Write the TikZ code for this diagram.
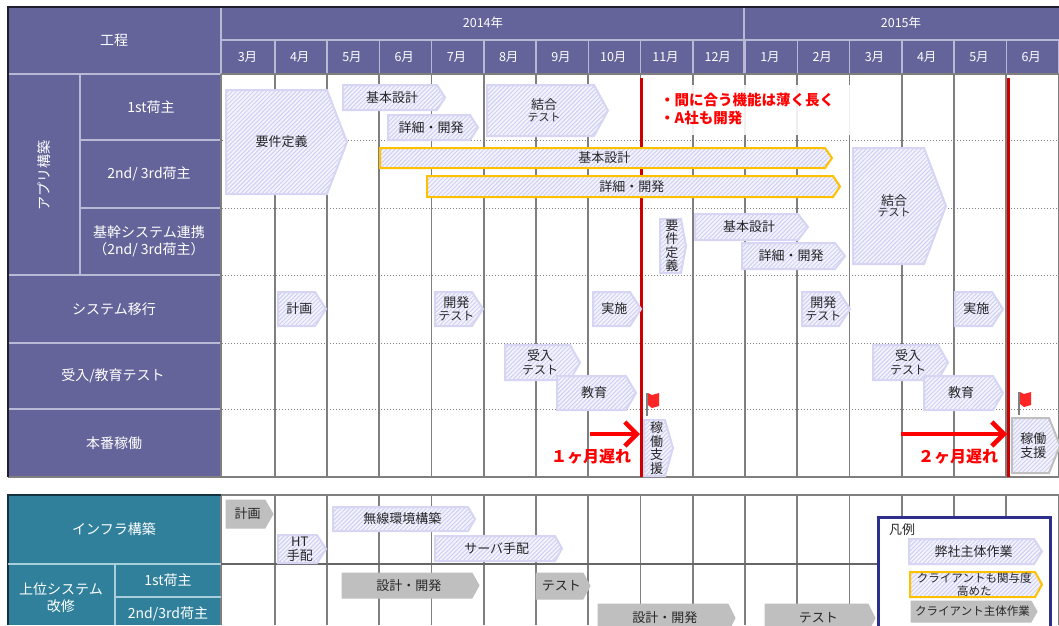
\documentclass[tikz,border=0pt]{standalone}
\usepackage{fontspec}
\setmainfont{Noto Sans CJK JP}
\usetikzlibrary{patterns.meta,arrows.meta}
\definecolor{kouteiColor}{HTML}{64649A}
\definecolor{kouteiLine}{HTML}{B9B9D6}
\definecolor{infraColor}{HTML}{30809C}
\definecolor{infraLine}{HTML}{A8D0DC}
\definecolor{gridColor}{HTML}{7F7F7F}
\definecolor{hatchColor}{HTML}{CFCFF2}
\definecolor{hatchEdge}{HTML}{D6D6F4}
\definecolor{hatchBase}{HTML}{F4F4FE}
\definecolor{clientColor}{HTML}{FFC000}
\definecolor{grayBar}{HTML}{BFBFBF}
\definecolor{legendColor}{HTML}{2E2E8C}
\definecolor{lateColor}{HTML}{CC0000}
\tikzset{
  hatched/.style={preaction={fill=hatchBase},pattern={Lines[angle=45,distance=3pt,line width=1pt]},pattern color=hatchColor},
  jisha/.style={hatched,draw=hatchEdge,line width=2pt},
  client/.style={hatched,draw=clientColor,line width=2pt},
  kadou/.style={hatched,draw=grayBar,line width=2pt},
  okyaku/.style={fill=grayBar,draw=grayBar,line width=1pt},
  bartext/.style={align=center,inner sep=0pt,text=black!85,font=\fontsize{13}{13.5}\selectfont},
  headtext/.style={align=center,inner sep=0pt,text=white,font=\fontsize{14}{17}\selectfont},
  monthtext/.style={inner sep=0pt,text=white,font=\fontsize{12.5}{13}\selectfont},
  latetext/.style={align=left,inner sep=0pt,text=red,font=\fontsize{14.5}{18.5}\selectfont\bfseries},
}
% 作業バー: スタイル, 名前, 左, 上, 右, 下, 矢じり長さ, 文字
\newcommand{\sagyou}[8][jisha]{
  \draw[#1] (#3,#4) -- ({#5-#7},#4) -- (#5,{(#4+#6)/2}) -- ({#5-#7},#6) -- (#3,#6) -- cycle;
  \node[bartext] (#2) at ({(#3+#5-#7/2)/2},{(#4+#6)/2}) {#8};
}
% 旗
\newcommand{\hata}[2]{
  \draw[gridColor,line width=1.2pt] (#1,#2) -- (#1,{#2+23});
  \fill[red!85!white] ({#1+1},#2) -- ({#1+5},{#2+2}) -- ({#1+12},#2) -- ({#1+12},{#2+13}) -- ({#1+5},{#2+15}) -- ({#1+1},{#2+12}) -- cycle;
}

\begin{document}
\begin{tikzpicture}[x=1pt,y=-1pt]
  \clip (0,0) rectangle (1059,625);

  % 背景
  \fill[kouteiColor] (8,7) rectangle (1059,74);
  \fill[kouteiColor] (8,74) rectangle (221,477);
  \fill[infraColor] (8,495) rectangle (221,625);

  % 月の区切り
  \foreach \i in {0,...,15}{
    \draw[gridColor,line width=1.8pt] ({274.8+52.25*\i},74) -- ({274.8+52.25*\i},477);
    \draw[gridColor,line width=1.8pt] ({274.8+52.25*\i},495) -- ({274.8+52.25*\i},625);
    \draw[kouteiLine,line width=1.4pt] ({274.8+52.25*\i},40) -- ({274.8+52.25*\i},74);
  }
  \foreach \y in {140,208,275,343,409}
    \draw[gridColor,line width=1pt,dotted] (222,\y) -- (1059,\y);

  % 表の罫線
  \draw[kouteiLine,line width=1.4pt] (221,7) -- (221,74) (744,7) -- (744,74) (221,40) -- (1059,40);
  \draw[kouteiLine,line width=1.4pt] (8,74) -- (221,74) (80,74) -- (80,275) (80,140) -- (221,140) (80,208) -- (221,208);
  \draw[kouteiLine,line width=1.4pt] (8,275) -- (221,275) (8,343) -- (221,343) (8,409) -- (221,409);
  \draw[gridColor,line width=1.6pt] (221,74) -- (1059,74) (221,74) -- (221,477) (8,477) -- (1059,477);
  \draw[black!70!kouteiColor,line width=1.6pt] (8,477) -- (8,7) -- (1059,7);
  \draw[gridColor,line width=1.6pt] (221,495) -- (1059,495) (221,495) -- (221,625);
  \draw[black!60,line width=1.4pt] (221,564) -- (878,564);
  \draw[black!60!infraColor,line width=1.6pt] (8,625) -- (8,495) -- (221,495);
  \draw[infraLine,line width=1.4pt] (8,564) -- (221,564) (115,564) -- (115,625) (115,597) -- (221,597);

  % 見出し
  \node[headtext] (kotei) at (114,40) {工程};
  \node[monthtext] (nen14) at (483,23) {2014年};
  \node[monthtext] (nen15) at (901,23) {2015年};
  \foreach \m [count=\i from 0] in {3,4,5,6,7,8,9,10,11,12,1,2,3,4,5,6}
    \node[monthtext] (tsuki\i) at ({247.5+52.25*\i},57) {\m 月};
  \node[headtext,rotate=90] (app) at (44,175) {アプリ構築};
  \node[headtext] (ni1) at (151,107) {1st荷主};
  \node[headtext] (ni2) at (149,174) {2nd/ 3rd荷主};
  \node[headtext] (kikan) at (149,241) {基幹システム連携\\（2nd/ 3rd荷主）};
  \node[headtext] (iko) at (114,309) {システム移行};
  \node[headtext] (ukeire) at (113,376) {受入/教育テスト};
  \node[headtext] (honban) at (114,443) {本番稼働};
  \node[headtext] (infra) at (114,529) {インフラ構築};
  \node[headtext] (joi) at (61,598) {上位システム\\改修};
  \node[headtext] (joi1) at (168,580) {1st荷主};
  \node[headtext] (joi2) at (168,614) {2nd/3rd荷主};

  % 遅れの線
  \draw[lateColor,line width=3pt] (641.5,78) -- (641.5,477);
  \draw[lateColor,line width=3pt] (1008,78) -- (1008,477);

  % 注記の白地
  \fill[white,opacity=0.88] (652,85) rectangle (851,135);

  % アプリ構築
  \sagyou{youken}{226}{90}{347}{194}{20}{要件定義}
  \sagyou{kihon1}{343}{85}{445}{110}{8}{基本設計}
  \sagyou{shosai1}{388}{115}{478}{140}{8}{詳細・開発}
  \sagyou{ketsu1}{487}{85}{608}{136}{14}{結合\\[-2pt]{\fontsize{11}{11.5}\selectfont テスト}}
  \sagyou[client]{kihon2}{380}{148}{832}{168}{7}{基本設計}
  \sagyou[client]{shosai2}{427}{176}{840}{197}{7}{詳細・開発}
  \sagyou{ketsu2}{853}{148}{946}{264}{22}{結合\\[-2pt]{\fontsize{11}{11.5}\selectfont テスト}}
  \sagyou{youken2}{660}{219}{686}{273}{5}{要\\件\\定\\義}
  \sagyou{kihon3}{695}{214}{808}{240}{10}{基本設計}
  \sagyou{shosai3}{742}{243}{845}{269}{10}{詳細・開発}

  % システム移行
  \sagyou{keikaku}{278}{292}{326}{326}{11}{計画}
  \sagyou{kaihatsu1}{435}{292}{483}{326}{11}{開発\\{\fontsize{12}{13}\selectfont テスト}}
  \sagyou{jisshi1}{593}{292}{641}{326}{11}{実施}
  \sagyou{kaihatsu2}{802}{292}{850}{326}{11}{開発\\{\fontsize{12}{13}\selectfont テスト}}
  \sagyou{jisshi2}{955}{292}{1003}{326}{11}{実施}

  % 受入/教育テスト
  \sagyou{juken1}{505}{345}{580}{380}{10}{受入\\{\fontsize{12}{13}\selectfont テスト}}
  \sagyou{kyoiku1}{557}{376}{636}{410}{10}{教育}
  \sagyou{juken2}{873}{345}{948}{380}{10}{受入\\{\fontsize{12}{13}\selectfont テスト}}
  \sagyou{kyoiku2}{924}{376}{1003}{410}{10}{教育}

  % 本番稼働
  \sagyou{shien1}{644}{420}{673}{476}{8}{稼\\働\\支\\援}
  \sagyou[kadou]{shien2}{1012}{418}{1060}{473}{11}{稼働\\支援}
  \hata{647}{393}
  \hata{1019}{392}

  \coordinate (late1s) at (590,434);
  \coordinate (late1e) at (640,434);
  \coordinate (late2s) at (901,434);
  \coordinate (late2e) at (1007,434);
  \draw[-{Straight Barb[length=12pt,width=24pt]},red,line width=4.5pt] (late1s) -- (late1e);
  \draw[-{Straight Barb[length=12pt,width=24pt]},red,line width=4.5pt] (late2s) -- (late2e);
  \node[latetext,font=\fontsize{16}{18}\selectfont\bfseries] (late1) at (591,457) {１ヶ月遅れ};
  \node[latetext,font=\fontsize{16}{18}\selectfont\bfseries] (late2) at (958,457) {２ヶ月遅れ};
  \node[latetext,anchor=west] (note) at (660,109) {・間に合う機能は薄く長く\\・A社も開発};

  % インフラ・上位システム
  \sagyou[okyaku]{keikaku2}{226}{500}{273}{528}{8}{計画}
  \sagyou{ht}{278}{535}{326}{563}{9}{HT\\手配}
  \sagyou{musen}{333}{507}{475}{531}{7}{無線環境構築}
  \sagyou{server}{435}{536}{562}{561}{7}{サーバ手配}
  \sagyou[okyaku]{sekkei1}{342}{573}{479}{598}{7}{設計・開発}
  \sagyou[okyaku]{test1}{536}{573}{590}{599}{7}{テスト}
  \sagyou[okyaku]{sekkei2}{598}{604}{735}{632}{7}{設計・開発}
  \sagyou[okyaku]{test2}{765}{604}{875}{632}{7}{テスト}

  % 凡例
  \draw[legendColor,line width=3pt,fill=white] (878,517) rectangle (1050,640);
  \node[bartext,anchor=west] (hanrei) at (889,530) {凡例};
  \sagyou{leg1}{909}{539}{1042}{564}{8}{弊社主体作業}
  \sagyou[client]{leg2}{910}{572}{1042}{597}{7}{{\fontsize{11.5}{12}\selectfont クライアントも関与度}\\{\fontsize{11.5}{12}\selectfont 高めた}}
  \sagyou[okyaku]{leg3}{911}{601}{1037}{622}{6}{{\fontsize{11.5}{12}\selectfont クライアント主体作業}}
\end{tikzpicture}
\end{document}
